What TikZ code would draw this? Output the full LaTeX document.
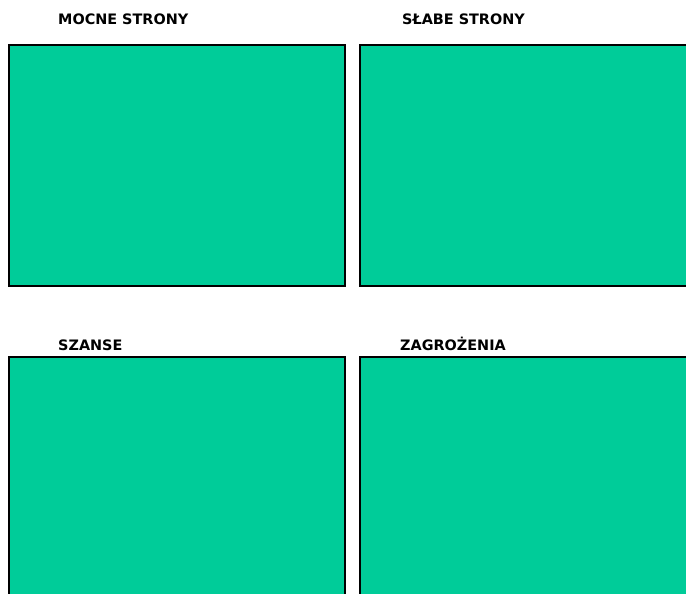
\documentclass[tikz,border=0pt]{standalone}
\usepackage{fontspec}
\setmainfont{DejaVu Sans}
\definecolor{swotgreen}{RGB}{0,204,153}
\begin{document}
\begin{tikzpicture}[x=1pt,y=-1pt,
  swotbox/.style={draw=black,line width=2pt,fill=swotgreen},
  title/.style={anchor=base west,inner sep=0pt,font=\fontsize{14.4}{16}\selectfont\bfseries}]
\useasboundingbox (0,0) rectangle (686,594);
\clip (0,0) rectangle (686,594);
\node[title] (t1) at (58,25) {MOCNE STRONY};
\node[title] (t2) at (402,25) {SŁABE STRONY};
\node[title] (t3) at (58,350) {SZANSE};
\node[title] (t4) at (400,350) {ZAGROŻENIA};
\path[swotbox] (9,45) rectangle (345,286);
\path[swotbox] (360,45) rectangle (692,286);
\path[swotbox] (9,357) rectangle (345,600);
\path[swotbox] (360,357) rectangle (692,600);
\end{tikzpicture}
\end{document}
